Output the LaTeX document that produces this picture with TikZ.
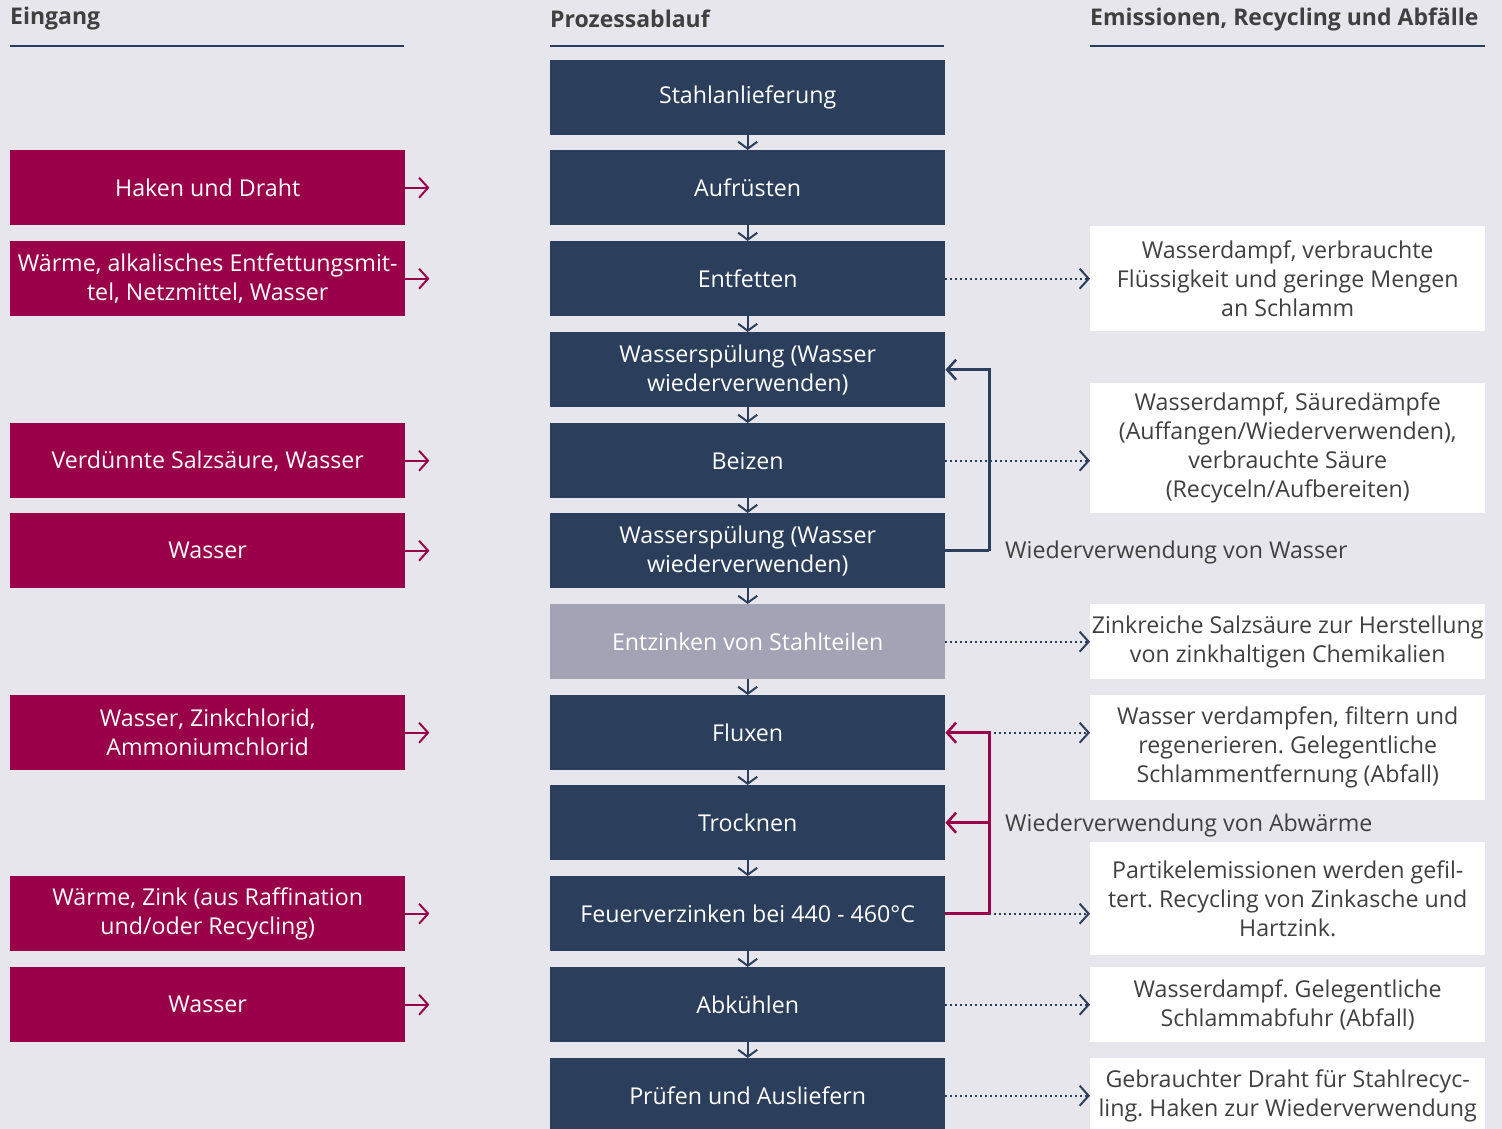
\documentclass[tikz,border=0pt]{standalone}
\usepackage{fontspec}
\setmainfont{Open Sans}
\usetikzlibrary{arrows.meta}
\definecolor{bg}{HTML}{E7E6EC}
\definecolor{navy}{HTML}{2B3F5C}
\definecolor{mag}{HTML}{990049}
\definecolor{grayb}{HTML}{A2A3B4}
\definecolor{txt}{HTML}{404040}
\frenchspacing
\begin{document}
\begin{tikzpicture}[x=1pt,y=-1pt,
 every node/.style={inner sep=0pt, font=\fontsize{23.2}{29}\selectfont},
 proc/.style={fill=navy, text=white, minimum width=395pt, minimum height=75pt, align=center, anchor=north west},
 inp/.style={proc, fill=mag},
 outb/.style={fill=white, text=txt, minimum width=395pt, align=center, anchor=north west},
 head/.style={anchor=west, text=txt, font=\fontsize{23}{26}\selectfont\bfseries},
 lbl/.style={anchor=west, text=txt},
 hline/.style={draw=navy, line width=2.5pt},
 flow/.style={draw=navy, line width=2pt, -{Straight Barb[length=7pt,width=19pt,line width=2pt]}},
 magarrow/.style={draw=mag, line width=2pt, -{Straight Barb[length=9pt,width=20pt,line width=2pt]}},
 dotarrow/.style={draw=navy, line width=2pt, dash pattern=on 2pt off 3pt, -{Straight Barb[length=9pt,width=20pt,line width=2pt,sep=0pt]}},
 fbnavy/.style={draw=navy, line width=2.5pt},
 fbmag/.style={draw=mag, line width=2.5pt},
]
\useasboundingbox[fill=bg] (0,0) rectangle (1502,1129);

% headers
\node[head] (h1) at (10,19) {Eingang};
\node[head] (h2) at (550,19) {Prozessablauf};
\node[head] (h3) at (1090,19) {Emissionen, Recycling und Abfälle};
\draw[hline] (10,46) -- (404,46);
\draw[hline] (550,46) -- (944,46);
\draw[hline] (1090,46) -- (1485,46);

% process column
\node[proc] (c1) at (550,60) {Stahlanlieferung};
\node[proc] (c2) at (550,150) {Aufrüsten};
\node[proc] (c3) at (550,241) {Entfetten};
\node[proc] (c4) at (550,332) {Wasserspülung (Wasser\\wiederverwenden)};
\node[proc] (c5) at (550,423) {Beizen};
\node[proc] (c6) at (550,513) {Wasserspülung (Wasser\\wiederverwenden)};
\node[proc, fill=grayb] (c7) at (550,604) {Entzinken von Stahlteilen};
\node[proc] (c8) at (550,695) {Fluxen};
\node[proc] (c9) at (550,785) {Trocknen};
\node[proc] (c10) at (550,876) {Feuerverzinken bei 440 - 460°C};
\node[proc] (c11) at (550,967) {Abkühlen};
\node[proc] (c12) at (550,1058) {Prüfen und Ausliefern};

\foreach \a/\b in {c1/c2,c2/c3,c3/c4,c4/c5,c5/c6,c6/c7,c7/c8,c8/c9,c9/c10,c10/c11,c11/c12}
  \draw[flow] (\a.south) -- (\b.north);

% input column
\node[inp] (l1) at (10,150) {Haken und Draht};
\node[inp] (l2) at (10,241) {Wärme, alkalisches Entfettungsmit-\\tel, Netzmittel, Wasser};
\node[inp] (l3) at (10,423) {Verdünnte Salzsäure, Wasser};
\node[inp] (l4) at (10,513) {Wasser};
\node[inp] (l5) at (10,695) {Wasser, Zinkchlorid,\\Ammoniumchlorid};
\node[inp] (l6) at (10,876) {Wärme, Zink (aus Raffination\\und/oder Recycling)};
\node[inp] (l7) at (10,967) {Wasser};
\foreach \n in {l1,l2,l3,l4,l5,l6,l7}
  \draw[magarrow] (\n.east) -- ++(24,0);

% output column
\node[outb, minimum height=105pt] (r1) at (1090,226) {Wasserdampf, verbrauchte\\Flüssigkeit und geringe Mengen\\an Schlamm};
\node[outb, minimum height=130pt] (r2) at (1090,383) {Wasserdampf, Säuredämpfe\\(Auffangen/Wiederverwenden),\\verbrauchte Säure\\(Recyceln/Aufbereiten)};
\node[outb, minimum height=75pt] (r3) at (1090,604) {Zinkreiche Salzsäure zur Herstellung\\von zinkhaltigen Chemikalien};
\node[outb, minimum height=105pt] (r4) at (1090,695) {Wasser verdampfen, filtern und\\regenerieren. Gelegentliche\\Schlammentfernung (Abfall)};
\node[outb, minimum height=113pt] (r5) at (1090,842) {Partikelemissionen werden gefil-\\tert. Recycling von Zinkasche und\\Hartzink.};
\node[outb, minimum height=75pt] (r6) at (1090,967) {Wasserdampf. Gelegentliche\\Schlammabfuhr (Abfall)};
\node[outb, minimum height=76pt] (r7) at (1090,1058) {Gebrauchter Draht für Stahlrecyc-\\ling. Haken zur Wiederverwendung};

% dotted emission arrows
\draw[dotarrow] (c3.east) -- (c3.east -| r1.west);
\draw[dotarrow] (c5.east) -- (c5.east -| r2.west);
\draw[dotarrow] (c7.east) -- (c7.east -| r3.west);
\draw[dotarrow] (c11.east) -- (c11.east -| r6.west);
\draw[dotarrow] (c12.east) -- (c12.east -| r7.west);

% water reuse loop
\coordinate (jw) at ([xshift=44pt]c6.east);
\draw[fbnavy] (c6.east) -- (jw);
\draw[fbnavy, -{Straight Barb[length=9pt,width=20pt,line width=2.5pt]}] (jw) |- (c4.east);
\node[lbl] (wl) at (1005,552) {Wiederverwendung von Wasser};

% heat reuse loop
\coordinate (jh) at ([xshift=44pt]c10.east);
\draw[dotarrow] (c8.east -| jh) -- (c8.east -| r4.west);
\draw[dotarrow] (jh) -- (c10.east -| r5.west);
\draw[fbmag] (c10.east) -- (jh);
\draw[fbmag, -{Straight Barb[length=9pt,width=20pt,line width=2.5pt]}] (jh) |- (c8.east);
\draw[fbmag, -{Straight Barb[length=9pt,width=20pt,line width=2.5pt]}] (c9.east -| jh) -- (c9.east);
\node[lbl] (hl) at (1005,825) {Wiederverwendung von Abwärme};
\end{tikzpicture}
\end{document}
